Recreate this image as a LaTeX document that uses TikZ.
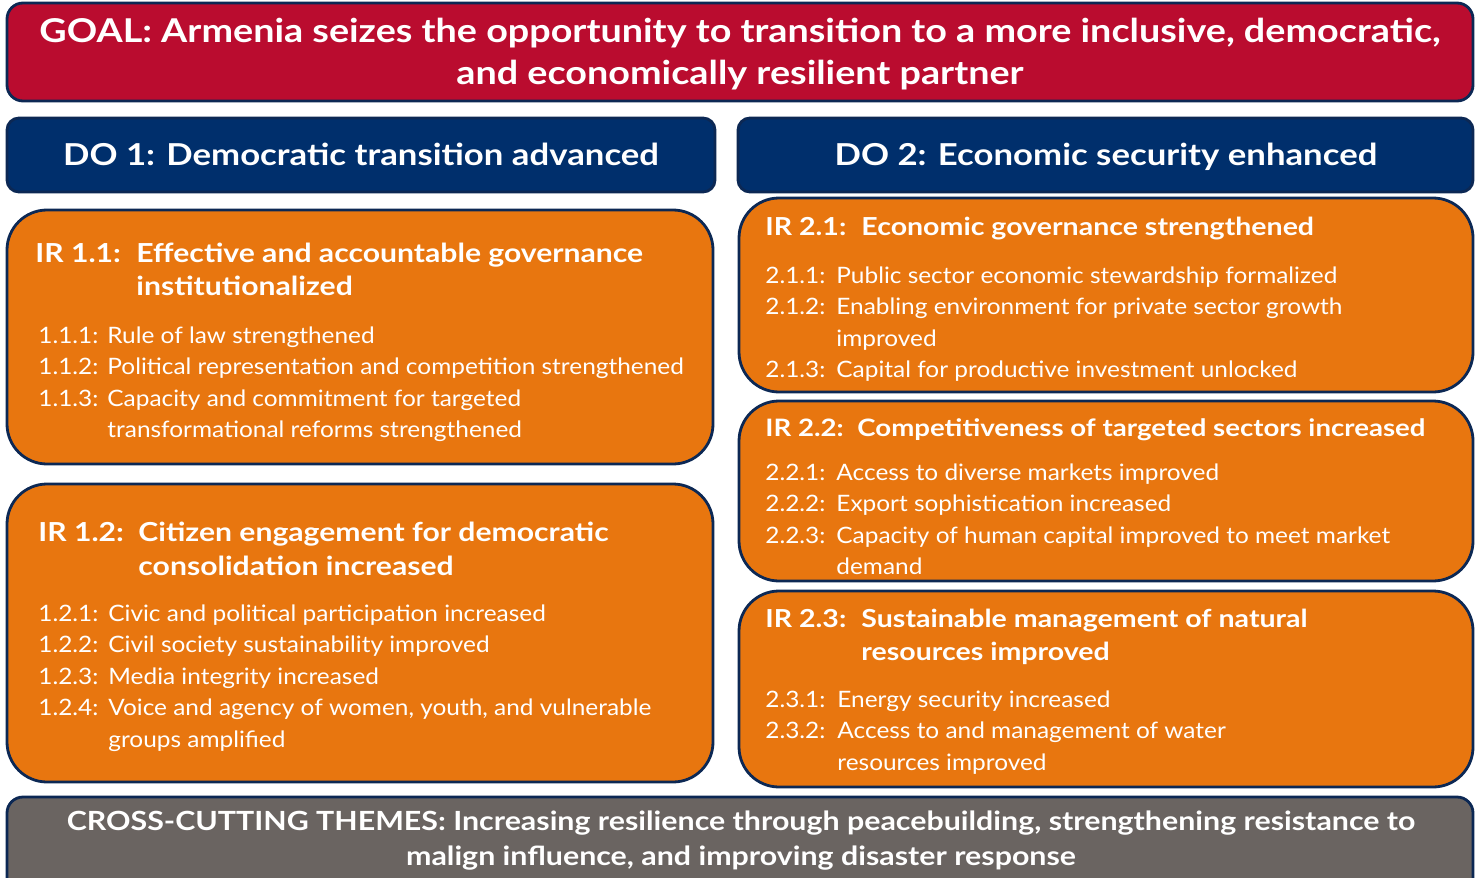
\documentclass[tikz,border=0pt]{standalone}
\usepackage{fontspec}
\setmainfont{Lato}[FakeStretch=1.08]
\newfontfamily\widebold{Lato}[FakeStretch=1.15]
\usetikzlibrary{positioning}
\definecolor{goalred}{RGB}{186,12,47}
\definecolor{donavy}{RGB}{0,47,108}
\definecolor{irorange}{RGB}{232,118,15}
\definecolor{crossgray}{RGB}{106,100,97}
\definecolor{edgenavy}{RGB}{12,40,84}

\begin{document}
\begin{tikzpicture}[x=0.5pt, y=-0.5pt,
    box/.style={draw=edgenavy, line width=1.4pt, inner sep=0pt},
    goalbox/.style={box, fill=goalred, rounded corners=8pt, minimum width=733pt, minimum height=49pt},
    dobox/.style={box, fill=donavy, rounded corners=6pt, minimum height=37pt},
    irbox/.style={box, fill=irorange, rounded corners=20pt},
    crossbox/.style={box, fill=crossgray, rounded corners=8pt, minimum width=733pt, minimum height=51.5pt},
    headtext/.style={text=white, inner sep=0pt, anchor=base, font=\widebold\bfseries\fontsize{16.4}{21}\selectfont},
    dotext/.style={text=white, inner sep=0pt, anchor=base, font=\widebold\bfseries\fontsize{15.1}{18}\selectfont},
    crosstext/.style={text=white, inner sep=0pt, anchor=base, font=\widebold\bfseries\fontsize{13.2}{17.5}\selectfont},
    irtitle/.style={text=white, inner sep=0pt, anchor=base west, font=\widebold\bfseries\fontsize{13.1}{17}\selectfont},
    irtitlesmall/.style={irtitle, font=\widebold\bfseries\fontsize{12.4}{16.5}\selectfont},
    iritem/.style={text=white, inner sep=0pt, anchor=base west, font=\fontsize{11.3}{15.75}\selectfont}
  ]
  \clip[use as bounding box] (0,0) rectangle (1475,877);
  \fill[white] (0,0) rectangle (1475,877);

  % goal
  \node[goalbox] (goal) at (740,52) {};
  \node[headtext] (goaltext) at (740,43) {\begin{tabular}[t]{@{}c@{}}
    GOAL: Armenia seizes the opportunity to transition to a more inclusive, democratic,\\
    and economically resilient partner
  \end{tabular}};

  % development objectives
  \node[dobox, minimum width=354pt] (do1) at (361,155) {};
  \node[dotext] (do1text) at (361,166) {DO 1: Democratic transition advanced};
  \node[dobox, minimum width=367.5pt] (do2) at (1105.5,155) {};
  \node[dotext] (do2text) at (1106,166) {DO 2: Economic security enhanced};

  % IR 1.1
  \node[irbox, minimum width=353pt, minimum height=127pt] (ir11) at (360,337) {};
  \node[irtitle] (ir11title) at (35,262) {\begin{tabular}[t]{@{}p{50.5pt}@{}l@{}}
    IR 1.1: & Effective and accountable governance\\
     & institutionalized
  \end{tabular}};
  \node[iritem] (ir11items) at (38,343) {\begin{tabular}[t]{@{}p{34.5pt}@{}l@{}}
    1.1.1: & Rule of law strengthened\\
    1.1.2: & Political representation and competition strengthened\\
    1.1.3: & Capacity and commitment for targeted\\
     & transformational reforms strengthened
  \end{tabular}};

  % IR 1.2
  \node[irbox, minimum width=353pt, minimum height=149pt] (ir12) at (360,633) {};
  \node[irtitle] (ir12title) at (38,541) {\begin{tabular}[t]{@{}p{50pt}@{}l@{}}
    IR 1.2: & Citizen engagement for democratic\\
     & consolidation increased
  \end{tabular}};
  \node[iritem] (ir12items) at (38,621) {\begin{tabular}[t]{@{}p{35pt}@{}l@{}}
    1.2.1: & Civic and political participation increased\\
    1.2.2: & Civil society sustainability improved\\
    1.2.3: & Media integrity increased\\
    1.2.4: & Voice and agency of women, youth, and vulnerable\\
     & groups amplified
  \end{tabular}};

  % IR 2.1
  \node[irbox, minimum width=367pt, minimum height=97pt] (ir21) at (1106,295) {};
  \node[irtitlesmall] (ir21title) at (765,235) {\begin{tabular}[t]{@{}p{48pt}@{}l@{}}
    IR 2.1: & Economic governance strengthened
  \end{tabular}};
  \node[iritem] (ir21items) at (765,283) {\begin{tabular}[t]{@{}p{35.5pt}@{}l@{}}
    2.1.1: & Public sector economic stewardship formalized\\
    2.1.2: & Enabling environment for private sector growth\\
     & improved\\
    2.1.3: & Capital for productive investment unlocked
  \end{tabular}};

  % IR 2.2
  \node[irbox, minimum width=367pt, minimum height=90pt] (ir22) at (1106,491) {};
  \node[irtitlesmall, font=\widebold\bfseries\fontsize{12}{16}\selectfont] (ir22title) at (765,436) {\begin{tabular}[t]{@{}p{46pt}@{}l@{}}
    IR 2.2: & Competitiveness of targeted sectors increased
  \end{tabular}};
  \node[iritem] (ir22items) at (765,480) {\begin{tabular}[t]{@{}p{35.5pt}@{}l@{}}
    2.2.1: & Access to diverse markets improved\\
    2.2.2: & Export sophistication increased\\
    2.2.3: & Capacity of human capital improved to meet market\\
     & demand
  \end{tabular}};

  % IR 2.3
  \node[irbox, minimum width=367pt, minimum height=98pt] (ir23) at (1106,689) {};
  \node[irtitlesmall] (ir23title) at (765,627) {\begin{tabular}[t]{@{}p{48pt}@{}l@{}}
    IR 2.3: & Sustainable management of natural\\
     & resources improved
  \end{tabular}};
  \node[iritem] (ir23items) at (765,707) {\begin{tabular}[t]{@{}p{36pt}@{}l@{}}
    2.3.1: & Energy security increased\\
    2.3.2: & Access to and management of water\\
     & resources improved
  \end{tabular}};

  % cross-cutting themes
  \node[crossbox] (cross) at (740,848.5) {};
  \node[crosstext] (crosstext) at (741,830) {\begin{tabular}[t]{@{}c@{}}
    CROSS-CUTTING THEMES: Increasing resilience through peacebuilding, strengthening resistance to\\
    malign influence, and improving disaster response
  \end{tabular}};
\end{tikzpicture}
\end{document}
